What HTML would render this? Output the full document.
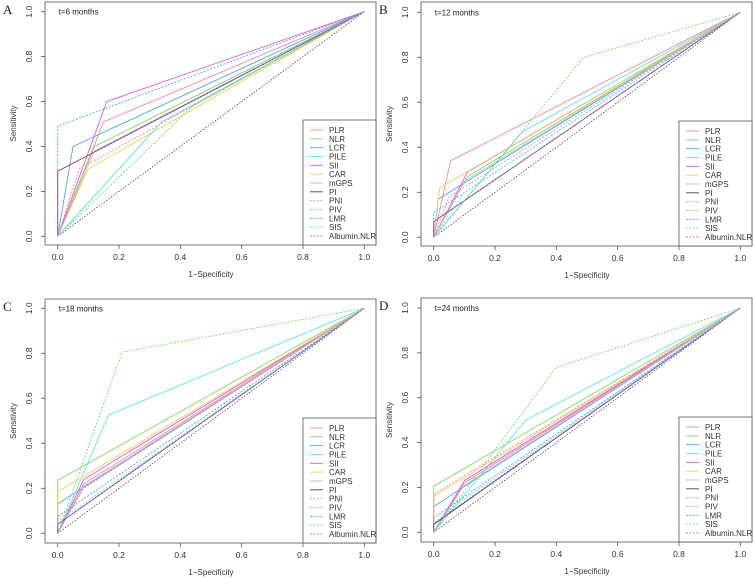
<!DOCTYPE html>
<html><head><meta charset="utf-8"><style>
html,body{margin:0;padding:0;background:#fff;}
svg{display:block;font-family:"Liberation Sans",sans-serif;}
</style></head><body>
<svg id="fig" width="753" height="578" viewBox="0 0 753 578" xmlns="http://www.w3.org/2000/svg"></svg>
<script>
const seriesNames = ["PLR","NLR","LCR","PILE","SII","CAR","mGPS","PI","PNI","PIV","LMR","SIS","Albumin.NLR"];
const seriesColors = ["#f48a9a","#7fd866","#4aa8ee","#5ce6e6","#e055e6","#f5cf58","#c0c0c0","#444444","#f48a9a","#7fd866","#4aa8ee","#5ce6e6","#e055e6"];
const seriesDashed = [false,false,false,false,false,false,false,false,true,true,true,true,true];
const panelLabels = ["A","B","C","D"];
const panelTitles = ["t=6 months","t=12 months","t=18 months","t=24 months"];
const xTicks = [0,0.2,0.4,0.6,0.8,1.0];
const yTicks = [0,0.2,0.4,0.6,0.8,1.0];
// middle ROC point (1-specificity, sensitivity) per series
const fprA = [0.15,0.12,0.05,0.34,0.16,0.10,0.12,0,0.07,0.44,0,0.34,0];
const tprA = [0.51,0.40,0.40,0.51,0.60,0.30,0.38,0.29,0.30,0.58,0.49,0.51,0.29];
const fprB = [0.055,0.11,0.015,0.29,0.11,0.02,0.10,0,0.05,0.49,0,0.10,0];
const tprB = [0.34,0.27,0.17,0.47,0.29,0.22,0.25,0.07,0.18,0.80,0.11,0.20,0.07];
const fprC = [0.085,0,0,0.165,0.085,0,0.085,0,0.085,0.21,0,0,0];
const tprC = [0.22,0.235,0.13,0.525,0.24,0.185,0.21,0.04,0.20,0.805,0.075,0.05,0.04];
const fprD = [0.10,0,0,0.30,0.10,0,0.10,0,0,0.40,0,0.05,0];
const tprD = [0.22,0.205,0.115,0.50,0.23,0.16,0.21,0.035,0.17,0.735,0.065,0.10,0.04];
const fprs=[fprA,fprB,fprC,fprD], tprs=[tprA,tprB,tprC,tprD];

const NS="http://www.w3.org/2000/svg";
const svg=document.getElementById('fig');
function mk(tag,attrs,parent){const e=document.createElementNS(NS,tag);for(const k in attrs)e.setAttribute(k,attrs[k]);(parent||svg).appendChild(e);return e;}

const layouts=[
 {ox:0,x0:57.7,x1:364.3,y0:236.3,y1:11.7,box:[45,2,376,245]},
 {ox:376,x0:433.7,x1:740.3,y0:237.3,y1:12.3,box:[421,2,752,246]},
 {ox:0,x0:57.7,x1:364.3,y0:533.3,y1:308.3,box:[45,299,376,543]},
 {ox:376,x0:433.7,x1:740.3,y0:532.3,y1:308,box:[421,298,752,542]}
];
layouts.forEach((L,p)=>{
 const g=mk('g',{});
 
 
 const sx=v=>L.x0+v*(L.x1-L.x0), sy=v=>L.y0+v*(L.y1-L.y0);
 const [bl,bt,br,bb]=L.box;
 const box=mk('rect',{x:bl,y:bt,width:br-bl,height:bb-bt,fill:'none',stroke:'#555','stroke-width':0.8},g);
 
 
 const lab=mk('text',{x:L.ox+3,y:bt+12,'font-family':'Liberation Serif, serif','font-size':13,fill:'#222'},g);
 lab.textContent=panelLabels[p];
 
 
 const tt=mk('text',{x:sx(0)+1,y:sy(1)+3,'font-size':8,fill:'#222'},g);
 tt.textContent=panelTitles[p];
 
 
 xTicks.forEach(t=>{
  mk('line',{x1:sx(t),x2:sx(t),y1:bb,y2:bb+4,stroke:'#555','stroke-width':0.8},g);
  const tx=mk('text',{x:sx(t),y:bb+15,'font-size':8.5,'text-anchor':'middle',fill:'#333'},g);
  tx.textContent=t.toFixed(1);
  
  
 });
 yTicks.forEach(t=>{
  mk('line',{x1:bl,x2:bl-4,y1:sy(t),y2:sy(t),stroke:'#555','stroke-width':0.8},g);
  const ty=mk('text',{x:bl-13,y:sy(t),'font-size':8.5,'text-anchor':'middle',fill:'#333',transform:`rotate(-90 ${bl-13} ${sy(t)})`},g);
  ty.textContent=t.toFixed(1);
  
  
 });
 const xl=mk('text',{x:sx(0.5),y:bb+32,'font-size':8,'text-anchor':'middle',fill:'#333'},g);
 xl.textContent='1\u2212Specificity';
 
 
 const ym=(bt+bb)/2;
 const yl=mk('text',{x:L.ox+16,y:ym,'font-size':8,'text-anchor':'middle',fill:'#333',transform:`rotate(-90 ${L.ox+16} ${ym})`},g);
 yl.textContent='Sensitivity';
 
 
 const d=mk('line',{x1:sx(0),y1:sy(0),x2:sx(1),y2:sy(1),stroke:'#333','stroke-width':0.7,'stroke-dasharray':'1.5,1.5'},g);
 
 
 seriesNames.forEach((n,i)=>{
  const fx=fprs[p][i], ty=tprs[p][i];
  const pts=[[0,0],[fx,ty],[1,1]].map(q=>sx(q[0]).toFixed(1)+','+sy(q[1]).toFixed(1)).join(' ');
  const pl=mk('polyline',{points:pts,fill:'none',stroke:seriesColors[i],'stroke-width':0.9},g);
  if(seriesDashed[i]) pl.setAttribute('stroke-dasharray','2,1.5');
  
  
 });
 const lg=mk('g',{},g);
 
 
 const lt=bb-125;
 mk('rect',{x:bl+258,y:lt,width:br-bl-258,height:bb-lt,fill:'#fff',stroke:'#555','stroke-width':0.8},lg);
 seriesNames.forEach((n,i)=>{
  const yy=lt+10+i*8.83;
  const ln=mk('line',{x1:bl+265,x2:bl+278,y1:yy,y2:yy,stroke:seriesColors[i],'stroke-width':0.9},lg);
  if(seriesDashed[i]) ln.setAttribute('stroke-dasharray','2,1.5');
  const tx=mk('text',{x:bl+284,y:yy+3,'font-size':8,fill:'#333'},lg);
  tx.textContent=n;
  
  
 });
});
</script>
</body></html>
